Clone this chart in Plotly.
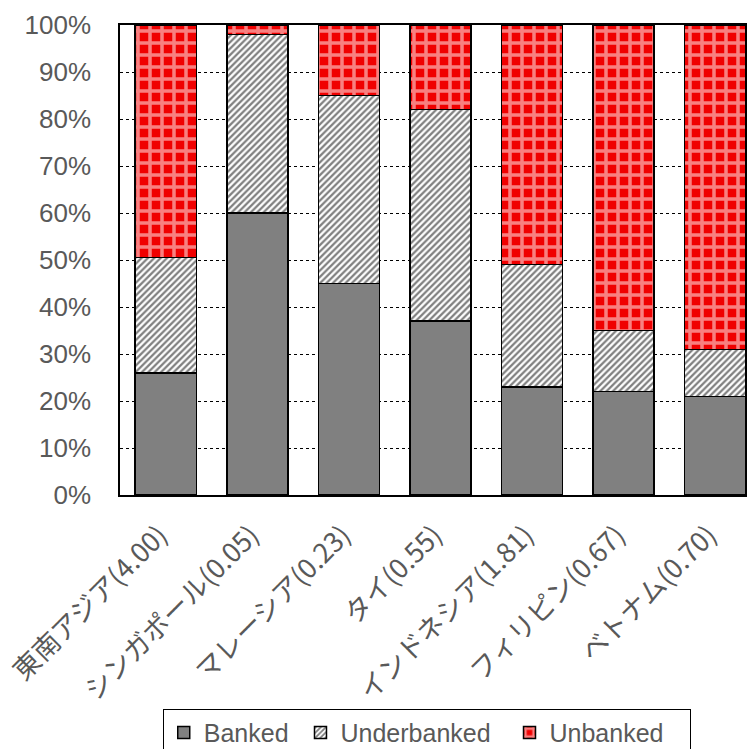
import plotly.graph_objects as go

categories = ["東南アジア(4.00)", "シンガポール(0.05)", "マレーシア(0.23)", "タイ(0.55)",
              "インドネシア(1.81)", "フィリピン(0.67)", "ベトナム(0.70)"]
banked = [26, 60, 45, 37, 23, 22, 21]
underbanked = [24.5, 38, 40, 45, 26, 13, 10]
unbanked = [49.5, 2, 15, 18, 51, 65, 69]
series_names = ["Banked", "Underbanked", "Unbanked"]

tick_vals = [0, 10, 20, 30, 40, 50, 60, 70, 80, 90, 100]
tick_text = [f"{v}%" for v in tick_vals]

NB = "\u00a0"
line = dict(color="black", width=1.5)
fig = go.Figure()
fig.add_trace(go.Bar(name=series_names[0] + NB, x=categories, y=banked,
                     marker=dict(color="#808080", line=line)))
fig.add_trace(go.Bar(name=series_names[1] + NB * 2, x=categories, y=underbanked,
                     marker=dict(color="white", line=line,
                                 pattern=dict(shape="/", fgcolor="black", bgcolor="white",
                                              size=4.5, solidity=0.5))))
fig.add_trace(go.Bar(name=series_names[2] + NB * 3, x=categories, y=unbanked,
                     marker=dict(color="#f00000", line=line,
                                 pattern=dict(shape="+", fgcolor="white", bgcolor="#f00000",
                                              size=12, solidity=0.5))))

fig.update_layout(
    barmode="stack", bargap=0.333,
    width=747, height=749,
    margin=dict(l=120, r=1, t=25, b=254, autoexpand=False),
    plot_bgcolor="white", paper_bgcolor="white",
    font=dict(family="Liberation Sans, Arial, Noto Sans CJK JP", size=26, color="#595959"),
    legend=dict(orientation="h", x=0.49, xanchor="center", y=-0.455, yanchor="top",
                bordercolor="black", borderwidth=1, bgcolor="white",
                font=dict(size=25, color="#595959"), itemwidth=30, traceorder="normal"),
)
fig.update_xaxes(range=[-0.5, 6.34], tickangle=-45, showline=True, linecolor="black",
                 linewidth=1.5, mirror=True, ticks="", automargin=False,
                 ticklabelstandoff=12, ticklabelshift=-6,
                 tickfont=dict(family="Noto Sans CJK JP", size=27, color="#595959"))
fig.update_yaxes(range=[0, 100], tickvals=tick_vals, ticktext=tick_text, automargin=False,
                 showline=True, linecolor="black", linewidth=1.5, mirror=True,
                 showgrid=True, gridcolor="black", griddash="dot", gridwidth=1,
                 ticks="", ticklabelstandoff=22)

fig.write_html("out.html")
